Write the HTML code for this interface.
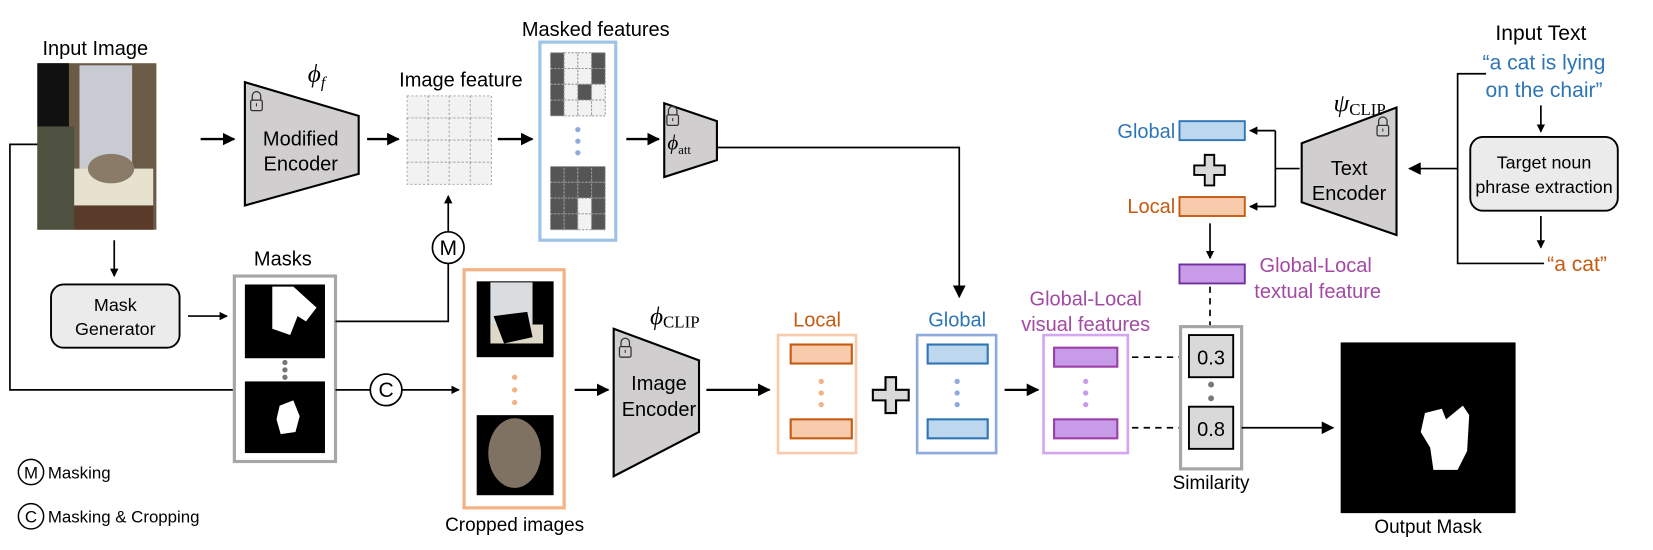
<!DOCTYPE html>
<html><head><meta charset="utf-8"><style>
html,body{margin:0;padding:0;background:#fff;}
svg{display:block;}
text{font-family:"Liberation Sans",sans-serif;}
.s{font-family:"Liberation Serif",serif;}
</style></head><body>
<svg width="1653" height="550" viewBox="0 0 1568 522" xmlns="http://www.w3.org/2000/svg">
<defs>
<marker id="a" markerWidth="8" markerHeight="8" refX="7" refY="4" orient="auto" markerUnits="userSpaceOnUse"><path d="M0,0 L8,4 L0,8 Z" fill="#000"/></marker>
<marker id="a2" markerWidth="12" markerHeight="12" refX="11" refY="6" orient="auto" markerUnits="userSpaceOnUse"><path d="M0,0 L12,6 L0,12 Z" fill="#000"/></marker>
<g id="lock"><path d="M-4,-3 v-4 a4,4 0 0 1 8,0 v4" fill="none" stroke="#333" stroke-width="1.2"/><rect x="-5.5" y="-3" width="11" height="10" rx="1.5" fill="none" stroke="#333" stroke-width="1.2"/><line x1="0" y1="0" x2="0" y2="3" stroke="#333"/></g>
</defs>
<g font-size="19" fill="#000" stroke="none">

<!-- Input image -->
<text x="90" y="52" text-anchor="middle">Input Image</text>
<rect x="35" y="60" width="113" height="158" fill="#6b5a45"/>
<rect x="35" y="60" width="30" height="60" fill="#111"/>
<rect x="75" y="62" width="50" height="100" fill="#c8ccd2"/>
<rect x="35" y="120" width="35" height="98" fill="#4e5040"/>
<rect x="70" y="160" width="75" height="35" fill="#e6e2cf"/>
<ellipse cx="105" cy="160" rx="22" ry="14" fill="#8a7a68"/>
<rect x="70" y="195" width="75" height="23" fill="#5a3a28"/>

<!-- left bus line -->
<polyline points="35,137 9,137 9,370 222,370" fill="none" stroke="#000" stroke-width="1.6"/>
<line x1="190" y1="132" x2="222" y2="132" stroke="#000" stroke-width="2.2" marker-end="url(#a2)"/>

<!-- Modified encoder -->
<polygon points="232,78 340,110 340,165 232,195" fill="#d0cece" stroke="#000" stroke-width="2"/>
<use href="#lock" x="243" y="98"/>
<text x="285" y="138" text-anchor="middle">Modified</text>
<text x="285" y="162" text-anchor="middle">Encoder</text>
<text x="300" y="78" class="s" font-style="italic" font-size="24" text-anchor="middle">ϕ<tspan font-size="15" dy="5">f</tspan></text>

<line x1="348" y1="132" x2="378" y2="132" stroke="#000" stroke-width="2.2" marker-end="url(#a2)"/>

<!-- Image feature grid -->
<text x="437" y="82" text-anchor="middle">Image feature</text>
<g fill="#f2f2f2" stroke="#aaa" stroke-width="1" stroke-dasharray="2,2">
<rect x="386" y="91" width="20" height="21"/><rect x="406" y="91" width="20" height="21"/><rect x="426" y="91" width="20" height="21"/><rect x="446" y="91" width="20" height="21"/>
<rect x="386" y="112" width="20" height="21"/><rect x="406" y="112" width="20" height="21"/><rect x="426" y="112" width="20" height="21"/><rect x="446" y="112" width="20" height="21"/>
<rect x="386" y="133" width="20" height="21"/><rect x="406" y="133" width="20" height="21"/><rect x="426" y="133" width="20" height="21"/><rect x="446" y="133" width="20" height="21"/>
<rect x="386" y="154" width="20" height="21"/><rect x="406" y="154" width="20" height="21"/><rect x="426" y="154" width="20" height="21"/><rect x="446" y="154" width="20" height="21"/>
</g>
<line x1="472" y1="132" x2="505" y2="132" stroke="#000" stroke-width="2.2" marker-end="url(#a2)"/>

<!-- Masked features -->
<text x="565" y="34" text-anchor="middle">Masked features</text>
<rect x="512" y="40" width="72" height="188" fill="#fff" stroke="#9dc3e6" stroke-width="3"/>
<g stroke="#999" stroke-width="1" stroke-dasharray="2,1.5">
<rect x="522" y="50" width="13" height="15" fill="#555"/><rect x="535" y="50" width="13" height="15" fill="#f2f2f2"/><rect x="548" y="50" width="13" height="15" fill="#f2f2f2"/><rect x="561" y="50" width="13" height="15" fill="#555"/>
<rect x="522" y="65" width="13" height="15" fill="#555"/><rect x="535" y="65" width="13" height="15" fill="#f2f2f2"/><rect x="548" y="65" width="13" height="15" fill="#f2f2f2"/><rect x="561" y="65" width="13" height="15" fill="#555"/>
<rect x="522" y="80" width="13" height="15" fill="#555"/><rect x="535" y="80" width="13" height="15" fill="#f2f2f2"/><rect x="548" y="80" width="13" height="15" fill="#555"/><rect x="561" y="80" width="13" height="15" fill="#f2f2f2"/>
<rect x="522" y="95" width="13" height="15" fill="#555"/><rect x="535" y="95" width="13" height="15" fill="#f2f2f2"/><rect x="548" y="95" width="13" height="15" fill="#f2f2f2"/><rect x="561" y="95" width="13" height="15" fill="#f2f2f2"/>
<rect x="522" y="158" width="13" height="15" fill="#555"/><rect x="535" y="158" width="13" height="15" fill="#555"/><rect x="548" y="158" width="13" height="15" fill="#555"/><rect x="561" y="158" width="13" height="15" fill="#555"/>
<rect x="522" y="173" width="13" height="15" fill="#555"/><rect x="535" y="173" width="13" height="15" fill="#555"/><rect x="548" y="173" width="13" height="15" fill="#555"/><rect x="561" y="173" width="13" height="15" fill="#555"/>
<rect x="522" y="188" width="13" height="15" fill="#555"/><rect x="535" y="188" width="13" height="15" fill="#555"/><rect x="548" y="188" width="13" height="15" fill="#f2f2f2"/><rect x="561" y="188" width="13" height="15" fill="#555"/>
<rect x="522" y="203" width="13" height="15" fill="#555"/><rect x="535" y="203" width="13" height="15" fill="#555"/><rect x="548" y="203" width="13" height="15" fill="#f2f2f2"/><rect x="561" y="203" width="13" height="15" fill="#555"/>
</g>
<g fill="#8faadc"><circle cx="548" cy="123" r="2.5"/><circle cx="548" cy="134" r="2.5"/><circle cx="548" cy="145" r="2.5"/></g>
<line x1="594" y1="132" x2="625" y2="132" stroke="#000" stroke-width="2.2" marker-end="url(#a2)"/>

<!-- phi att -->
<polygon points="630,98 680,115 680,152 630,168" fill="#d0cece" stroke="#000" stroke-width="2"/>
<use href="#lock" x="638" y="112"/>
<text x="633" y="142" class="s" font-style="italic" font-size="20">ϕ<tspan font-size="12" font-style="normal" dy="4">att</tspan></text>
<polyline points="680,140 910,140 910,282" fill="none" stroke="#000" stroke-width="1.6" marker-end="url(#a2)"/>

<!-- Masks -->
<text x="268" y="252" text-anchor="middle">Masks</text>
<rect x="222" y="262" width="96" height="176" fill="#fff" stroke="#a6a6a6" stroke-width="3"/>
<rect x="232" y="270" width="76" height="70" fill="#000"/>
<path d="M258,272 L278,272 L300,292 L290,305 L282,300 L275,318 L258,312 Z" fill="#fff"/>
<rect x="232" y="362" width="76" height="68" fill="#000"/>
<path d="M265,385 L278,380 L284,395 L280,410 L266,412 L262,398 Z" fill="#fff"/>
<g fill="#777"><circle cx="270" cy="344" r="2.5"/><circle cx="270" cy="351" r="2.5"/><circle cx="270" cy="358" r="2.5"/></g>

<!-- Mask generator -->
<line x1="108" y1="228" x2="108" y2="262" stroke="#000" stroke-width="1.6" marker-end="url(#a)"/>
<rect x="48" y="270" width="122" height="60" rx="12" fill="#ebebeb" stroke="#000" stroke-width="1.8"/>
<text x="109" y="295" text-anchor="middle" font-size="17">Mask</text>
<text x="109" y="318" text-anchor="middle" font-size="17">Generator</text>
<line x1="178" y1="300" x2="215" y2="300" stroke="#000" stroke-width="1.6" marker-end="url(#a)"/>

<!-- M circle -->
<polyline points="318,305 425,305 425,250" fill="none" stroke="#000" stroke-width="1.6"/>
<circle cx="425" cy="235" r="15" fill="#fff" stroke="#000" stroke-width="1.6"/>
<text x="425" y="242" text-anchor="middle" font-size="20">M</text>
<line x1="425" y1="220" x2="425" y2="186" stroke="#000" stroke-width="1.6" marker-end="url(#a)"/>

<!-- C circle -->
<line x1="318" y1="370" x2="351" y2="370" stroke="#000" stroke-width="1.6"/>
<circle cx="366" cy="370" r="15" fill="#fff" stroke="#000" stroke-width="1.6"/>
<text x="366" y="377" text-anchor="middle" font-size="20">C</text>
<line x1="381" y1="370" x2="435" y2="370" stroke="#000" stroke-width="1.6" marker-end="url(#a)"/>

<!-- Cropped images -->
<rect x="440" y="256" width="95" height="226" fill="#fff" stroke="#f4b183" stroke-width="3"/>
<rect x="452" y="267" width="73" height="72" fill="#000"/>
<rect x="465" y="268" width="40" height="40" fill="#d9dde0"/>
<rect x="465" y="308" width="50" height="18" fill="#ddd8c8"/>
<path d="M468,300 L500,296 L505,320 L478,326 Z" fill="#000"/>
<rect x="452" y="394" width="73" height="76" fill="#000"/>
<ellipse cx="488" cy="430" rx="25" ry="33" fill="#7f7262"/>
<g fill="#f4b183"><circle cx="488" cy="358" r="2.5"/><circle cx="488" cy="370" r="2.5"/><circle cx="488" cy="382" r="2.5"/></g>
<text x="488" y="504" text-anchor="middle" font-size="18">Cropped images</text>

<line x1="545" y1="370" x2="577" y2="370" stroke="#000" stroke-width="2.2" marker-end="url(#a2)"/>

<!-- Image encoder -->
<polygon points="582,312 663,342 663,410 582,452" fill="#d0cece" stroke="#000" stroke-width="2"/>
<use href="#lock" x="593" y="332"/>
<text x="625" y="370" text-anchor="middle">Image</text>
<text x="625" y="395" text-anchor="middle">Encoder</text>
<text x="640" y="308" class="s" font-style="italic" font-size="24" text-anchor="middle">ϕ<tspan font-size="16" font-style="normal" dy="3">CLIP</tspan></text>

<line x1="670" y1="370" x2="730" y2="370" stroke="#000" stroke-width="2.2" marker-end="url(#a2)"/>

<!-- Local visual -->
<text x="775" y="310" text-anchor="middle" fill="#c55a11">Local</text>
<rect x="738" y="318" width="74" height="112" fill="#fff" stroke="#f8cbad" stroke-width="2.5"/>
<rect x="750" y="327" width="58" height="18" fill="#f8cbad" stroke="#c55a11" stroke-width="2"/>
<rect x="750" y="398" width="58" height="18" fill="#f8cbad" stroke="#c55a11" stroke-width="2"/>
<g fill="#f4b183"><circle cx="779" cy="362" r="2.5"/><circle cx="779" cy="373" r="2.5"/><circle cx="779" cy="384" r="2.5"/></g>

<!-- plus -->
<path d="M840,358 h10 v12 h12 v10 h-12 v12 h-10 v-12 h-12 v-10 h12 Z" fill="#d9d9d9" stroke="#000" stroke-width="2"/>

<!-- Global visual -->
<text x="908" y="310" text-anchor="middle" fill="#2e75b6">Global</text>
<rect x="870" y="318" width="75" height="112" fill="#fff" stroke="#8faadc" stroke-width="2.5"/>
<rect x="880" y="327" width="57" height="18" fill="#bdd7ee" stroke="#2e75b6" stroke-width="2"/>
<rect x="880" y="398" width="57" height="18" fill="#bdd7ee" stroke="#2e75b6" stroke-width="2"/>
<g fill="#8faadc"><circle cx="908" cy="362" r="2.5"/><circle cx="908" cy="373" r="2.5"/><circle cx="908" cy="384" r="2.5"/></g>

<line x1="953" y1="370" x2="985" y2="370" stroke="#000" stroke-width="2.2" marker-end="url(#a2)"/>

<!-- Global-local visual -->
<text x="1030" y="290" text-anchor="middle" fill="#a349a4">Global-Local</text>
<text x="1030" y="314" text-anchor="middle" fill="#a349a4">visual features</text>
<rect x="990" y="318" width="80" height="112" fill="#fff" stroke="#d5a6f0" stroke-width="2.5"/>
<rect x="1000" y="330" width="60" height="18" fill="#c89be8" stroke="#9b3fa6" stroke-width="2"/>
<rect x="1000" y="398" width="60" height="18" fill="#c89be8" stroke="#9b3fa6" stroke-width="2"/>
<g fill="#c89be8"><circle cx="1030" cy="362" r="2.5"/><circle cx="1030" cy="373" r="2.5"/><circle cx="1030" cy="384" r="2.5"/></g>
<g stroke="#000" stroke-width="1.6" stroke-dasharray="6,5">
<line x1="1074" y1="339" x2="1120" y2="339"/>
<line x1="1074" y1="406" x2="1120" y2="406"/>
<line x1="1148" y1="272" x2="1148" y2="310"/>
</g>

<!-- Similarity -->
<rect x="1120" y="310" width="58" height="135" fill="#fff" stroke="#a6a6a6" stroke-width="3"/>
<rect x="1128" y="318" width="42" height="40" fill="#d9d9d9" stroke="#000" stroke-width="1.8"/>
<text x="1149" y="346" text-anchor="middle" font-size="19">0.3</text>
<rect x="1128" y="386" width="42" height="40" fill="#d9d9d9" stroke="#000" stroke-width="1.8"/>
<text x="1149" y="414" text-anchor="middle" font-size="19">0.8</text>
<g fill="#777"><circle cx="1149" cy="365" r="2.8"/><circle cx="1149" cy="378" r="2.8"/></g>
<text x="1149" y="464" text-anchor="middle" font-size="18">Similarity</text>
<line x1="1178" y1="406" x2="1265" y2="406" stroke="#000" stroke-width="1.6" marker-end="url(#a2)"/>

<!-- Output mask -->
<rect x="1272" y="325" width="166" height="162" fill="#000"/>
<path d="M1352,392 L1368,388 L1372,398 L1388,385 L1394,394 L1392,428 L1383,446 L1360,446 L1357,425 L1348,410 Z" fill="#fff"/>
<text x="1355" y="506" text-anchor="middle" font-size="18">Output Mask</text>

<!-- Text side -->
<text x="1115" y="131" text-anchor="end" fill="#2e75b6">Global</text>
<rect x="1119" y="115" width="62" height="18" fill="#bdd7ee" stroke="#2e75b6" stroke-width="1.8"/>
<path d="M1143,147 h9 v10 h10 v9 h-10 v10 h-9 v-10 h-10 v-9 h10 Z" fill="#d9d9d9" stroke="#000" stroke-width="1.8"/>
<text x="1115" y="202" text-anchor="end" fill="#c55a11">Local</text>
<rect x="1119" y="187" width="62" height="18" fill="#f8cbad" stroke="#c55a11" stroke-width="1.8"/>
<line x1="1148" y1="212" x2="1148" y2="245" stroke="#000" stroke-width="1.6" marker-end="url(#a)"/>
<rect x="1119" y="251" width="62" height="18" fill="#c89be8" stroke="#7030a0" stroke-width="1.8"/>
<text x="1195" y="258" fill="#a349a4">Global-Local</text>
<text x="1190" y="283" fill="#a349a4">textual feature</text>

<polyline points="1233,160 1210,160" fill="none" stroke="#000" stroke-width="1.6"/>
<polyline points="1210,124 1210,196" fill="none" stroke="#000" stroke-width="1.6"/>
<line x1="1210" y1="124" x2="1186" y2="124" stroke="#000" stroke-width="1.6" marker-end="url(#a)"/>
<line x1="1210" y1="196" x2="1186" y2="196" stroke="#000" stroke-width="1.6" marker-end="url(#a)"/>

<polygon points="1235,136 1325,102 1325,223 1235,192" fill="#d0cece" stroke="#000" stroke-width="2"/>
<use href="#lock" x="1312" y="122"/>
<text x="1280" y="166" text-anchor="middle">Text</text>
<text x="1280" y="190" text-anchor="middle">Encoder</text>
<text x="1290" y="106" class="s" font-style="italic" font-size="24" text-anchor="middle">ψ<tspan font-size="16" font-style="normal" dy="3">CLIP</tspan></text>

<polyline points="1410,70 1383,70 1383,250 1465,250" fill="none" stroke="#000" stroke-width="1.6"/>
<line x1="1383" y1="160" x2="1337" y2="160" stroke="#000" stroke-width="1.6" marker-end="url(#a2)"/>

<text x="1462" y="38" text-anchor="middle" font-size="20">Input Text</text>
<text x="1465" y="66" text-anchor="middle" font-size="20" fill="#2e75b6">“a cat is lying</text>
<text x="1465" y="92" text-anchor="middle" font-size="20" fill="#2e75b6">on the chair”</text>
<line x1="1462" y1="100" x2="1462" y2="125" stroke="#000" stroke-width="1.6" marker-end="url(#a)"/>
<rect x="1395" y="130" width="140" height="70" rx="12" fill="#ebebeb" stroke="#000" stroke-width="1.8"/>
<text x="1465" y="160" text-anchor="middle" font-size="17">Target noun</text>
<text x="1465" y="183" text-anchor="middle" font-size="17">phrase extraction</text>
<line x1="1462" y1="205" x2="1462" y2="235" stroke="#000" stroke-width="1.6" marker-end="url(#a)"/>
<text x="1468" y="257" fill="#c55a11" font-size="20">“a cat”</text>

<!-- legend -->
<circle cx="29" cy="448" r="12" fill="#fff" stroke="#000" stroke-width="1.4"/>
<text x="29" y="454" text-anchor="middle" font-size="16">M</text>
<text x="45" y="454" font-size="16">Masking</text>
<circle cx="29" cy="490" r="12" fill="#fff" stroke="#000" stroke-width="1.4"/>
<text x="29" y="496" text-anchor="middle" font-size="16">C</text>
<text x="45" y="496" font-size="16">Masking &amp; Cropping</text>
</g>
</svg>
</body></html>
